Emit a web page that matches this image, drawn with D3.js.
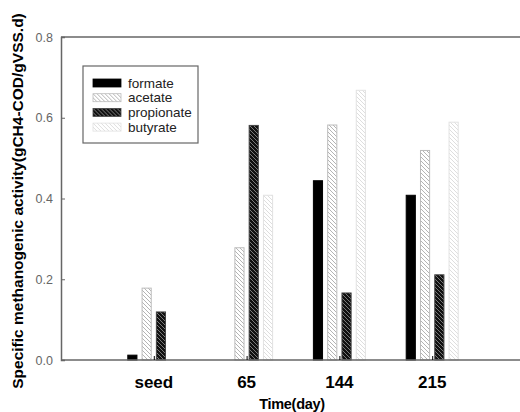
<!DOCTYPE html>
<html>
<head>
<meta charset="utf-8">
<script src="https://cdn.jsdelivr.net/npm/d3@7"></script>
<style>
  body { margin: 0; background: #fff; }
  svg { display: block; font-family: "Liberation Sans", Arial, sans-serif; }
</style>
</head>
<body>
<div id="container"></div>
<script>
/* DATA */
const categories = ["seed", "65", "144", "215"];
const series = ["formate", "acetate", "propionate", "butyrate"];
const formate = [0.012, 0, 0.444, 0.408];
const acetate = [0.178, 0.278, 0.582, 0.519];
const propionate = [0.119, 0.581, 0.166, 0.211];
const butyrate = [0, 0.408, 0.668, 0.589];
const yTicks = [0, 0.2, 0.4, 0.6, 0.8];

const values = { formate, acetate, propionate, butyrate };

/* CONSTANTS */
const width = 520;
const height = 412;
const margin = { top: 37, right: -5, bottom: 52, left: 61 };

const svg = d3.select("#container")
  .append("svg")
  .attr("width", width)
  .attr("height", height);

// patterns
const defs = svg.append("defs");
const styles = {
  formate:    { fill: "#000", line: "#000", stroke: "#000" },
  acetate:    { fill: "#fff", line: "#b4b4b4", stroke: "#bcbcbc" },
  propionate: { fill: "#111", line: "#7a7a7a", stroke: "#444" },
  butyrate:   { fill: "#fff", line: "#dedede", stroke: "#e2e2e2" }
};
series.forEach(s => {
  const p = defs.append("pattern")
    .attr("id", "pat-" + s)
    .attr("patternUnits", "userSpaceOnUse")
    .attr("width", 4)
    .attr("height", 4);
  p.append("rect").attr("width", 4).attr("height", 4).attr("fill", styles[s].fill);
  if (s !== "formate") {
    p.append("path")
      .attr("d", "M-1,-1 L5,5 M-1,3 L1,5 M3,-1 L5,1")
      .attr("stroke", styles[s].line)
      .attr("stroke-width", 1);
  }
});

/* SCALES */
const xScale = d3.scaleLinear()
  .domain([0, categories.length + 1])
  .range([margin.left, width - margin.right]);

const yScale = d3.scaleLinear()
  .domain([0, 0.8])
  .range([height - margin.bottom, margin.top]);

const inner = d3.scaleBand()
  .domain(series)
  .range([-26, 26])
  .paddingInner(0.36);

/* BARS */
series.forEach(s => {
  svg.append("g")
    .selectAll("rect")
    .data(values[s].map((v, i) => ({ v, i })).filter(d => d.v > 0))
    .join("rect")
    .attr("x", d => xScale(d.i + 1) + inner(s))
    .attr("y", d => yScale(d.v))
    .attr("width", inner.bandwidth())
    .attr("height", d => yScale(0) - yScale(d.v))
    .attr("fill", `url(#pat-${s})`)
    .attr("stroke", styles[s].stroke)
    .attr("stroke-width", 1);
});

/* AXES */
const frameColor = "#666";
// top frame line
svg.append("line")
  .attr("x1", margin.left).attr("x2", width + 10)
  .attr("y1", yScale(0.8)).attr("y2", yScale(0.8))
  .attr("stroke", frameColor).attr("stroke-width", 1.5);

// Y-axis
const yAxis = svg.append("g")
  .attr("transform", `translate(${margin.left},0)`)
  .call(d3.axisRight(yScale).tickValues(yTicks).tickSize(4).tickFormat(d3.format(".1f")));
yAxis.select(".domain").attr("stroke", frameColor).attr("stroke-width", 1.5);
yAxis.selectAll(".tick line").attr("stroke", frameColor);
yAxis.selectAll(".tick text")
  .attr("x", -8)
  .attr("text-anchor", "end")
  .attr("fill", "#666")
  .style("font-size", "12.5px");

// X-axis
const xAxis = svg.append("g")
  .attr("transform", `translate(0,${yScale(0)})`)
  .call(d3.axisTop(xScale).tickValues(categories.map((c, i) => i + 1)).tickSize(4).tickFormat(""));
xAxis.select(".domain").attr("stroke", frameColor).attr("stroke-width", 1.5)
  .attr("d", `M${margin.left},0H${width + 10}`);
xAxis.selectAll(".tick line").attr("stroke", "#000");

svg.append("g")
  .selectAll("text")
  .data(categories)
  .join("text")
  .attr("x", (d, i) => xScale(i + 1))
  .attr("y", yScale(0) + 28)
  .attr("text-anchor", "middle")
  .style("font-size", "17px")
  .style("font-weight", "bold")
  .text(d => d);

svg.append("text")
  .attr("x", 292)
  .attr("y", 409)
  .attr("text-anchor", "middle")
  .style("font-size", "14.5px")
  .style("font-weight", "bold")
  .style("letter-spacing", "-0.3px")
  .text("Time(day)");

svg.append("text")
  .attr("transform", "translate(23,201) rotate(-90)")
  .attr("text-anchor", "middle")
  .style("font-size", "15.5px")
  .style("font-weight", "bold")
  .text("Specific methanogenic activity(gCH4-COD/gVSS.d)");

/* LEGEND */
const legend = svg.append("g").attr("transform", "translate(83,66)");
legend.append("rect")
  .attr("width", 115).attr("height", 77)
  .attr("fill", "#fff")
  .attr("stroke", "#666").attr("stroke-width", 1.2);
series.forEach((s, i) => {
  const row = legend.append("g").attr("transform", `translate(10,${17 + i * 14.7})`);
  row.append("rect")
    .attr("x", 0).attr("y", -4)
    .attr("width", 28).attr("height", 8)
    .attr("fill", `url(#pat-${s})`)
    .attr("stroke", s === "formate" ? "#000" : styles[s].stroke)
    .attr("stroke-width", 0.8);
  row.append("text")
    .attr("x", 35).attr("y", 4.5)
    .style("font-size", "13.5px")
    .attr("fill", "#222")
    .text(s);
});
</script>
</body>
</html>
